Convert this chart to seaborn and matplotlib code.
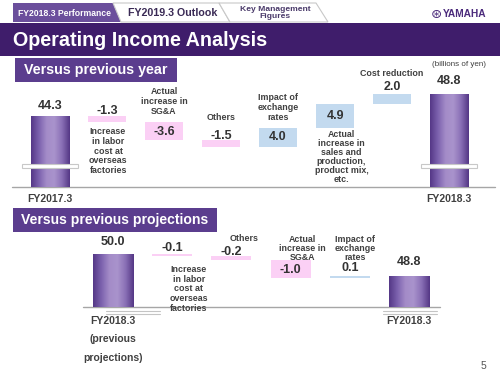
import numpy as np
import pandas as pd
import matplotlib
matplotlib.use("Agg")
import matplotlib.pyplot as plt
import seaborn as sns
from matplotlib.patches import Rectangle, Polygon
from matplotlib.colors import LinearSegmentedColormap

# ---------------- data ----------------
yoy_total_labels = ["FY2017.3", "FY2018.3"]
yoy_totals = [44.3, 48.8]
yoy_steps = [-1.3, -3.6, -1.5, 4.0, 4.9, 2.0]
yoy_step_labels = [
    "Increase\nin labor\ncost at\noverseas\nfactories",
    "Actual\nincrease in\nSG&A",
    "Others",
    "Impact of\nexchange\nrates",
    "Actual\nincrease in\nsales and\nproduction,\nproduct mix,\netc.",
    "Cost reduction",
]

proj_total_labels = ["FY2018.3\n(previous\nprojections)", "FY2018.3"]
proj_totals = [50.0, 48.8]
proj_steps = [-0.1, -0.2, -1.0, 0.1]
proj_step_labels = [
    "Increase\nin labor\ncost at\noverseas\nfactories",
    "Others",
    "Actual\nincrease in\nSG&A",
    "Impact of\nexchange\nrates",
]

# ---------------- style ----------------
sns.set_theme(style="white")
plt.rcParams['font.family'] = ['Liberation Sans', 'DejaVu Sans']

PURPLE = "#6E55A0"
PINK = "#FBD0F5"
BLUE = "#C3DAEF"
DARK = "#333333"
TXT = "#404040"
grad_cmap = LinearSegmentedColormap.from_list(
    "pur", ["#553887", "#7C62AE", "#A48CC8", "#A993CC", "#8A70B6", "#553886"])

fig = plt.figure(figsize=(5, 3.75), dpi=100)
bg = fig.add_axes([0, 0, 1, 1])
bg.set_xlim(0, 500)
bg.set_ylim(375, 0)
bg.axis('off')


def px_axes(x0, y0, x1, y1):
    ax = fig.add_axes([x0 / 500, 1 - y1 / 375, (x1 - x0) / 500, (y1 - y0) / 375])
    ax.patch.set_alpha(0)
    return ax


PT = 0.72


def put(ax, x, y, s, dx=0, dy=0, **kw):
    kw.setdefault("ha", "center")
    kw.setdefault("va", "center")
    ax.annotate(s, xy=(x, y), xytext=(dx * PT, -dy * PT), textcoords="offset points",
                annotation_clip=False, **kw)


# ---------------- header ----------------
bg.add_patch(Polygon([(13, 3), (113, 3), (121, 22), (13, 22)], closed=True,
                     facecolor="#6B4F9C", edgecolor="none"))
bg.add_patch(Polygon([(113, 3), (219, 3), (230, 22), (121, 22)], closed=True,
                     facecolor="white", edgecolor="#C8C8C8", lw=0.8))
bg.add_patch(Polygon([(219, 3), (316, 3), (328, 22), (230, 22)], closed=True,
                     facecolor="white", edgecolor="#C8C8C8", lw=0.8))
bg.text(64, 13.5, "FY2018.3 Performance", color="white", fontsize=6.2,
        fontweight="bold", ha="center", va="center")
bg.text(173, 13.5, "FY2019.3 Outlook", color="#3A2A55", fontsize=7.7,
        fontweight="bold", ha="center", va="center")
bg.text(275, 13, "Key Management\nFigures", color="#4A3A6A", fontsize=6.1,
        fontweight="bold", ha="center", va="center", linespacing=1.0)
bg.text(436, 14, "\u229b", color="#4B2A7B", fontsize=9.5, family="DejaVu Sans",
        ha="center", va="center")
bg.text(465, 14, "YAMAHA", color="#4B2A7B", fontsize=7.3, fontweight="bold",
        ha="center", va="center")

bg.add_patch(Rectangle((0, 23), 500, 33, facecolor="#3F1D6B", edgecolor="none"))
bg.text(13, 40, "Operating Income Analysis", color="white", fontsize=14.2,
        fontweight="bold", ha="left", va="center")

bg.add_patch(Rectangle((15, 58), 162, 24, facecolor="#5B3D8E", edgecolor="none"))
bg.text(96, 70, "Versus previous year", color="white", fontsize=10.3,
        fontweight="bold", ha="center", va="center")
bg.add_patch(Rectangle((13, 208), 204, 24, facecolor="#5B3D8E", edgecolor="none"))
bg.text(115, 220, "Versus previous projections", color="white", fontsize=10.1,
        fontweight="bold", ha="center", va="center")
bg.text(459, 65, "(billions of yen)", color=TXT, fontsize=5.8, ha="center", va="center")
bg.text(483, 366, "5", color="#555555", fontsize=7.5, ha="center", va="center")

# break marks under the lower chart
for x0, x1 in [(106, 160), (383, 437)]:
    for yy in (311, 313.5):
        bg.plot([x0, x1], [yy, yy], color="#C4C4C4", lw=0.8)


# ---------------- waterfall ----------------
def waterfall(ax, total_labels, totals, steps, step_labels, width, xlim, ylim,
              val_pos, desc_pos, tot_dy, cat_dy, cat_ls, brk=None):
    n = len(steps) + 2
    cats = [f"c{i}" for i in range(n)]
    df_tot = pd.DataFrame({"cat": [cats[0], cats[-1]], "value": totals})
    sns.barplot(data=df_tot, x="cat", y="value", order=cats, color=PURPLE,
                saturation=1, width=width, errorbar=None, ax=ax, zorder=2)
    tot_patches = list(ax.patches)
    grad = np.linspace(0, 1, 64).reshape(1, -1)
    for p in tot_patches:
        x0, y0 = p.get_x(), p.get_y()
        ytop = y0 + p.get_height()
        ylow = max(y0, ylim[0])
        ax.imshow(grad, extent=[x0, x0 + p.get_width(), ylow, ytop],
                  aspect="auto", cmap=grad_cmap, origin="lower", zorder=2.1)

    cum = np.concatenate([[totals[0]], totals[0] + np.cumsum(steps)])
    lows = np.minimum(cum[:-1], cum[1:])
    highs = np.maximum(cum[:-1], cum[1:])
    heights = np.abs(steps)
    colors = [PINK if s < 0 else BLUE for s in steps]
    xs = np.arange(1, n - 1)
    ax.bar(xs, heights, bottom=lows, width=width, color=colors, zorder=2,
           edgecolor="none")

    ax.set_xlim(*xlim)
    ax.set_ylim(*ylim)
    ax.axis("off")
    ax.axhline(ylim[0], color="#A6A6A6", lw=1.0, clip_on=False, zorder=1)

    # step labels
    for i, s in enumerate(steps):
        x = xs[i]
        ref = {"top": highs[i], "bottom": lows[i], "mid": (highs[i] + lows[i]) / 2}
        a, dy = val_pos[i]
        put(ax, x, ref[a], f"{s:.1f}", dy=dy, fontsize=9, fontweight="bold",
            color=DARK, zorder=5)
        a, dy, dx, ls = desc_pos[i]
        put(ax, x, ref[a], step_labels[i], dx=dx, dy=dy, fontsize=6.4,
            fontweight="bold", color=TXT, linespacing=ls, zorder=5)
    # totals
    for j, (xi, v) in enumerate(zip([0, n - 1], totals)):
        put(ax, xi, v, f"{v:.1f}", dy=tot_dy[j], fontsize=9, fontweight="bold",
            color=DARK, zorder=5)
        put(ax, xi, ylim[0], total_labels[j], dy=cat_dy[j], fontsize=7.5,
            fontweight="bold", color=TXT, linespacing=cat_ls[j])
    if brk is not None:
        for xi in [0, n - 1]:
            ax.add_patch(Rectangle((xi - width / 2 - 0.16, brk[0]), width + 0.32,
                                   brk[1] - brk[0], facecolor="white",
                                   edgecolor="#C8C8C8", lw=0.8, zorder=3))


# top chart: centers at 50 + 57*i px, baseline y=187 px, 4.889 px/unit
ax1 = px_axes(12, 60, 495, 187)
waterfall(ax1, yoy_total_labels, yoy_totals, yoy_steps, yoy_step_labels,
          width=0.667, xlim=((12 - 50) / 57, (495 - 50) / 57),
          ylim=(29.8, 29.8 + 127 / 4.889),
          val_pos=[("top", -5), ("mid", 0.8), ("top", -4.5), ("mid", -0.5),
                   ("mid", 0), ("top", -7)],
          desc_pos=[("bottom", 28.6, 1, 1.12), ("top", -21, 0, 1.12),
                    ("top", -22.5, 0, 1.12), ("top", -20.3, 0, 1.12),
                    ("bottom", 29.5, 6.5, 1.0), ("top", -20.6, 0, 1.12)],
          tot_dy=[-10, -13], cat_dy=[12, 12], cat_ls=[1.2, 1.2],
          brk=(33.7, 34.5))

# bottom chart: centers at 113 + 59.2*i px, baseline y=307 px, 18.33 px/unit
ax2 = px_axes(83, 235, 440, 307)
waterfall(ax2, proj_total_labels, proj_totals, proj_steps, proj_step_labels,
          width=0.676, xlim=((83 - 113) / 59.2, (440 - 113) / 59.2),
          ylim=(47.11, 47.11 + 72 / 18.33),
          val_pos=[("top", -6), ("top", -4), ("mid", 1), ("top", -8)],
          desc_pos=[("bottom", 33, 16.5, 1.12), ("top", -17, 13, 1.12),
                    ("top", -11, 12, 1.05), ("top", -28, 5, 1.0)],
          tot_dy=[-12, -14], cat_dy=[32.5, 14], cat_ls=[2.05, 1.2])

fig.savefig("out.png", dpi=100)
